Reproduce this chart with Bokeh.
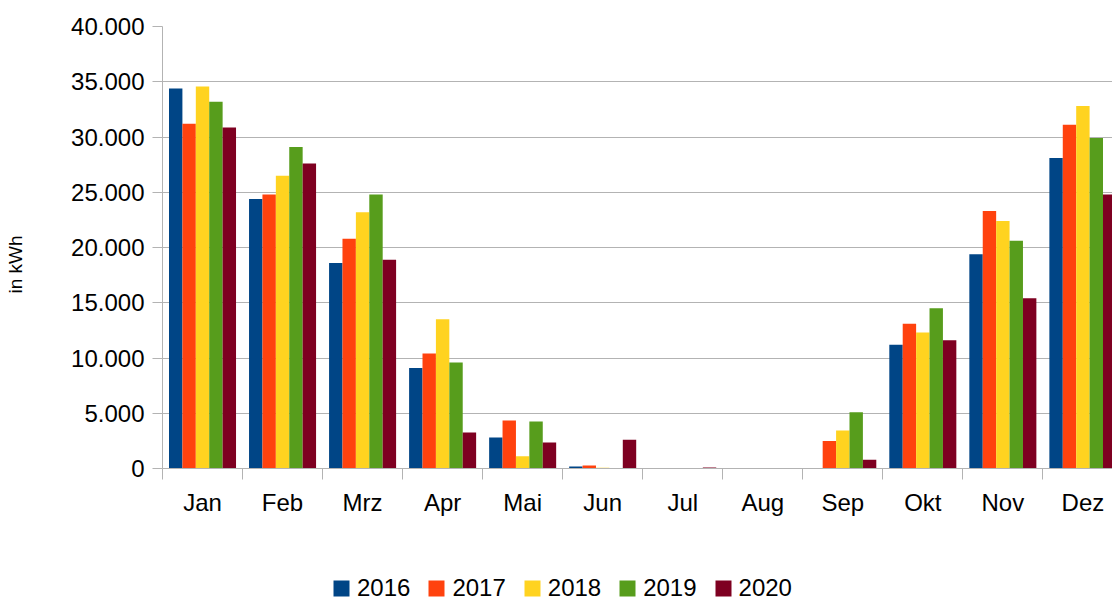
import math
from bokeh.plotting import figure
from bokeh.layouts import column, row
from bokeh.models import (ColumnDataSource, Range1d, FixedTicker, Label,
                          Legend, LegendItem, CustomJSTickFormatter)
from bokeh.embed import file_html
from bokeh.resources import INLINE
from bokeh.transform import dodge

months = ["Jan", "Feb", "Mrz", "Apr", "Mai", "Jun", "Jul", "Aug", "Sep", "Okt", "Nov", "Dez"]
years = ["2016", "2017", "2018", "2019", "2020"]
v2016 = [34400, 24400, 18600, 9100, 2800, 170, 0, 0, 0, 11200, 19400, 28100]
v2017 = [31200, 24800, 20800, 10400, 4350, 270, 0, 0, 2500, 13100, 23300, 31100]
v2018 = [34570, 26500, 23200, 13500, 1100, 60, 0, 0, 3450, 12300, 22400, 32800]
v2019 = [33200, 29100, 24800, 9600, 4250, 0, 0, 0, 5100, 14500, 20600, 29900]
v2020 = [30860, 27600, 18900, 3260, 2350, 2600, 90, 0, 800, 11600, 15400, 24800]
colors = ["#004586", "#ff420e", "#ffd320", "#579d1c", "#7e0021"]

series = [v2016, v2017, v2018, v2019, v2020]
centers = [i + 0.5 for i in range(len(months))]
data = {"x": centers}
for y, vals in zip(years, series):
    data["y" + y] = vals
source = ColumnDataSource(data)

FONT = "Liberation Sans"
GRID = "#b3b3b3"
LEFT_W = 30

# narrow strip for the y-axis title
pt = figure(frame_width=LEFT_W, frame_height=560, output_backend="svg", toolbar_location=None,
            x_range=Range1d(0, 1), y_range=Range1d(0, 1),
            x_axis_location=None, y_axis_location=None,
            min_border_top=0, min_border_bottom=0, min_border_left=0, min_border_right=0)
pt.outline_line_color = None
pt.xgrid.grid_line_color = None
pt.ygrid.grid_line_color = None
pt.add_layout(Label(text="in kWh", x=15, y=296, x_units="screen", y_units="screen",
                    angle=math.pi / 2, text_align="center", text_baseline="middle",
                    text_font=FONT, text_font_size="19px", text_color="black"))

p = figure(frame_width=950, frame_height=442, output_backend="svg", toolbar_location=None,
           x_range=Range1d(0, 11.87), y_range=Range1d(0, 40000),
           min_border_top=26, min_border_right=0, min_border_left=162 - LEFT_W,
           min_border_bottom=92)
p.outline_line_color = None
p.background_fill_color = "white"
p.border_fill_color = "white"

bw = 0.1675
for j, y in enumerate(years):
    p.vbar(x=dodge("x", (j - 2) * bw, range=p.x_range), top="y" + y, width=bw,
           source=source, fill_color=colors[j], line_color=None)

# y axis
yax = p.yaxis[0]
yax.ticker = FixedTicker(ticks=list(range(0, 40001, 5000)))
yax.formatter = CustomJSTickFormatter(
    code='return tick.toFixed(0).replace(/\\B(?=(\\d{3})+(?!\\d))/g, ".");')
yax.axis_line_color = GRID
yax.major_tick_line_color = GRID
yax.major_tick_out = 10
yax.major_tick_in = 0
yax.minor_tick_line_color = None
yax.major_label_text_font = FONT
yax.major_label_text_font_size = "24px"
yax.major_label_text_color = "black"
yax.major_label_standoff = 8

# x axis
xax = p.xaxis[0]
xax.ticker = FixedTicker(ticks=centers, minor_ticks=list(range(len(months) + 1)))
xax.formatter = CustomJSTickFormatter(args=dict(months=months),
                                      code="return months[Math.floor(tick)];")
xax.axis_line_color = GRID
xax.major_tick_line_color = None
xax.major_tick_out = 0
xax.major_tick_in = 0
xax.minor_tick_line_color = GRID
xax.minor_tick_out = 11
xax.minor_tick_in = 0
xax.major_label_text_font = FONT
xax.major_label_text_font_size = "24px"
xax.major_label_text_color = "black"
xax.major_label_standoff = 9

p.xgrid.grid_line_color = None
p.ygrid.grid_line_color = GRID
p.ygrid.ticker = yax.ticker

# legend strip below the chart (its bars lie entirely outside its visible ranges)
pl = figure(frame_width=1112 - LEFT_W, frame_height=38, output_backend="svg",
            toolbar_location=None, x_range=Range1d(-3, -2), y_range=Range1d(-2, -1),
            x_axis_location=None, y_axis_location=None,
            min_border_top=0, min_border_bottom=0, min_border_left=0, min_border_right=0)
pl.outline_line_color = None
pl.xgrid.grid_line_color = None
pl.ygrid.grid_line_color = None
items = []
for j, y in enumerate(years):
    r = pl.vbar(x="x", top="y" + y, width=bw, source=source,
                fill_color=colors[j], line_color=None)
    items.append(LegendItem(label=y, renderers=[r]))
legend = Legend(items=items, orientation="horizontal", location=(331 - LEFT_W, -4),
                glyph_width=20, glyph_height=20, label_standoff=6, spacing=16,
                padding=0, margin=0, border_line_color=None, background_fill_alpha=0,
                label_text_font=FONT, label_text_font_size="24px", label_text_color="black")
pl.add_layout(legend)

layout = row(pt, column(p, pl, spacing=0), spacing=0)
open("out.html", "w").write(file_html(layout, INLINE))
